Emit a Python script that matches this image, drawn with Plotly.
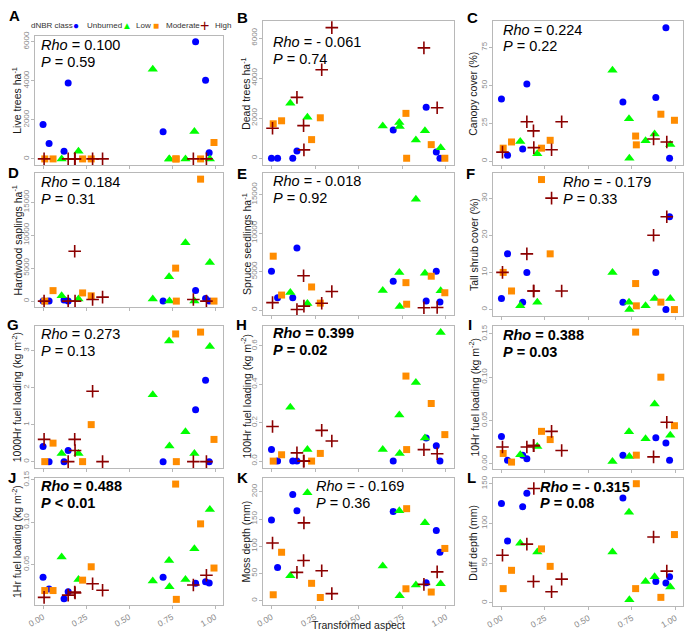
import plotly.graph_objects as go

W, H = 685, 633

classes = ["Unburned", "Low", "Moderate", "High"]
colors = {"Unburned": "#0000FF", "Low": "#00FF00", "Moderate": "#FF8C00", "High": "#8B0000"}

# Transformed aspect of the sites (shared by all panels), per dNBR class
aspect = {
    "Unburned": [0.00, 0.035, 0.122, 0.146, 0.698, 0.887, 0.945, 0.966],
    "Low": [0.108, 0.206, 0.638, 0.733, 0.735, 0.828, 0.880, 0.970],
    "Moderate": [0.010, 0.058, 0.230, 0.280, 0.771, 0.775, 0.916, 0.994],
    "High": [0.006, 0.146, 0.184, 0.186, 0.288, 0.346, 0.874, 0.950],
}

live_trees = {"Unburned": [1765, 790, 387, 3880, 1395, 6000, 4030, 320],
              "Low": [0, 390, 4590, 0, 0, 0, 1400, 0],
              "Moderate": [0, 0, 0, 0, 0, 0, 0, 840],
              "High": [0, 0, 0, 0, 0, 0, 0, 0]}
dead_trees = {"Unburned": [0, 0, 0, 360, 1415, 2540, 310, 0],
              "Low": [2750, 2050, 1610, 1790, 1590, 910, 1370, 520],
              "Moderate": [1720, 1870, 930, 2020, 2240, 0, 680, 0],
              "High": [1500, 3040, 1630, 420, 4420, 6520, 5510, 2520]}
canopy_cover = {"Unburned": [41, 4, 8, 51, 39, 42, 88, 2],
                "Low": [13, 5, 60, 28, 2, 13.5, 18, 11],
                "Moderate": [8.6, 12.7, 8.6, 13.8, 16.6, 10.8, 31, 27],
                "High": [6, 26, 20, 9, 7.6, 26, 14.7, 12.7]}
hardwood_saplings = {"Unburned": [0, 0, 150, 0, 0, 1600, 400, 0],
                     "Low": [800, 300, 300, 3680, 0, 8850, 0, 5870],
                     "Moderate": [0, 1590, 1240, 800, 5000, 0, 18500, 0],
                     "High": [0, 0, 7560, 0, 250, 600, 250, 0]}
spruce_seedlings = {"Unburned": [5040, 1610, 1610, 8050, 3730, 1190, 5040, 1060],
                    "Low": [2290, 850, 2540, 4870, 470, 14400, 4790, 2500],
                    "Moderate": [7000, 1950, 3000, 900, 3560, 760, 4400, 2250],
                    "High": [970, 80, 4450, 510, 890, 2420, 300, 340]}
tall_shrub = {"Unburned": [3, 15, 2, 10, 2, 10, 0, 25],
              "Low": [1, 2, 10, 2, 0, 1, 3, 3],
              "Moderate": [10, 5, 35, 15, 7, 1, 2, 0],
              "High": [10, 15, 5, 5, 30, 5, 20, 25]}
fuel_1000hr = {"Unburned": [0.41, 0, 0, 0.3, 0, 1.4, 2.2, 0],
               "Low": [0.22, 0.22, 1.81, 3.26, 0.42, 0.81, 0.22, 3.11],
               "Moderate": [0, 0.5, 0, 1.0, 3.45, 0, 3.5, 0.6],
               "High": [0.6, 0, 0.6, 0.3, 1.9, 0, 0, 0]}
fuel_100hr = {"Unburned": [0.06, 0, 0, 0, 0, 0.12, 0.08, 0],
              "Low": [0.28, 0.06, 0.06, 0.24, 0.04, 0.41, 0.12, 0.67],
              "Moderate": [0, 0.033, 0, 0.04, 0.443, 0.06, 0.3, 0.138],
              "High": [0.18, 0.043, 0, 0, 0.16, 0.105, 0.06, 0.038]}
fuel_10hr = {"Unburned": [0.0315, 0.004, 0.01, 0.006, 0.01, 0.03, 0.024, 0.004],
             "Low": [0.0105, 0.02, 0.0026, 0.037, 0.0086, 0.029, 0.069, 0.033],
             "Moderate": [0.012, 0.002, 0.0375, 0.028, 0.152, 0.01, 0.1, 0.044],
             "High": [0.0195, 0.0195, 0.021, 0.021, 0.0375, 0.0154, 0.008, 0.048]}
fuel_1hr = {"Unburned": [0.035, 0.021, 0.0096, 0.0177, 0.035, 0.0277, 0.0296, 0.028],
            "Low": [0.0588, 0.0323, 0.0304, 0.0546, 0.0238, 0.0323, 0.0685, 0.115],
            "Moderate": [0.0192, 0.0192, 0.0315, 0.0473, 0.145, 0.0088, 0.098, 0.0458],
            "High": [0.0112, 0.0138, 0.0173, 0.0165, 0.0273, 0.0196, 0.0258, 0.0373]}
moss_depth = {"Unburned": [148, 61, 195, 165, 164, 33, 129, 89],
              "Low": [46, 198, 64, 165, 9, 29, 143, 31],
              "Moderate": [11, 89, 32, 6, 22, 169, 16, 96],
              "High": [106, 52, 74, 143, 55, 13, 30, 53]}
duff_depth = {"Unburned": [125, 78, 121, 138, 132, 27, 25, 33],
              "Low": [75, 64, 64, 114, 4, 27, 33, 20],
              "Moderate": [18, 41, 68, 46, 18, 150, 7, 86],
              "High": [60, 74, 27, 144, 14, 30, 83, 40]}

x_ticks = [0.0, 0.25, 0.5, 0.75, 1.0]
x_ticktext = ["0.00", "0.25", "0.50", "0.75", "1.00"]

# letter, y title, data, rho, p, bold, yticks, tickformat, yrange
panels = [
    ("A", "Live trees ha<sup>-1</sup>", live_trees, "0.100", "= 0.59", False, [0, 2000, 4000, 6000], "d", [-300, 6300]),
    ("B", "Dead trees ha<sup>-1</sup>", dead_trees, "- 0.061", "= 0.74", False, [0, 2000, 4000, 6000], "d", [-326, 6846]),
    ("C", "Canopy cover (%)", canopy_cover, "0.224", "= 0.22", False, [0, 25, 50, 75], "d", [-2.8, 92.4]),
    ("D", "Hardwood saplings ha<sup>-1</sup>", hardwood_saplings, "0.184", "= 0.31", False, [0, 5000, 10000, 15000], "d", [-925, 19425]),
    ("E", "Spruce seedlings ha<sup>-1</sup>", spruce_seedlings, "- 0.018", "= 0.92", False, [0, 5000, 10000, 15000], "d", [-650, 17800]),
    ("F", "Tall shrub cover (%)", tall_shrub, "- 0.179", "= 0.33", False, [0, 10, 20, 30], "d", [-1.75, 36.75]),
    ("G", "1000Hr fuel loading (kg m<sup>-2</sup>)", fuel_1000hr, "0.273", "= 0.13", False, [0, 1, 2, 3], "d", [-0.175, 3.675]),
    ("H", "100Hr fuel loading (kg m<sup>-2</sup>)", fuel_100hr, "0.399", "= 0.02", True, [0, 0.2, 0.4, 0.6], ".1f", [-0.034, 0.706]),
    ("I", "10Hr fuel loading (kg m<sup>-2</sup>)", fuel_10hr, "0.388", "= 0.03", True, [0, 0.05, 0.10, 0.15], ".2f", [-0.0055, 0.1595]),
    ("J", "1Hr fuel loading (kg m<sup>-2</sup>)", fuel_1hr, "0.488", "< 0.01", True, [0.05, 0.10, 0.15], ".2f", [0.002, 0.152]),
    ("K", "Moss depth (mm)", moss_depth, "- 0.169", "= 0.36", False, [0, 50, 100, 150, 200], "d", [-8, 225]),
    ("L", "Duff depth (mm)", duff_depth, "- 0.315", "= 0.08", True, [0, 50, 100, 150], "d", [-4, 157]),
]

# layout geometry in pixels (left, right) per column, (top, bottom) per panel
col_x = [(27.3, 217.3), (258.3, 451.0), (491.0, 683.3)]
panel_y = [(28.3, 159.3), (13.3, 159.3), (13.3, 160.0),
           (167.7, 304.0), (167.7, 312.0), (167.7, 313.0),
           (322.7, 467.5), (322.7, 467.0), (322.7, 468.0),
           (477.7, 606.7), (477.7, 606.7), (477.7, 607.7)]
ann_pos = [(31.7, 38, 55), (265.7, 35, 52), (499, 22, 39),
           (31.7, 177, 194), (265.7, 175.7, 192.7), (560, 177, 194),
           (31.7, 331.7, 348.3), (265.7, 330.7, 347.7), (499.3, 332, 349.3),
           (31.7, 486, 502.7), (310, 486, 503.3), (536.7, 486.7, 503.3)]
letter_pos = [(7, 8), (237, 9.5), (469.5, 10), (5.5, 167), (237, 168), (468, 168),
              (5.5, 321.7), (236.7, 321.7), (467, 321.7), (4.5, 476.7), (237, 476.7), (469, 476.7)]
ytitle_x = [8.5, 240.7, 471.0]

FONT = "Liberation Sans, Arial, sans-serif"
TICKC = "#8a8a8a"
BORDER = "#b8b8b8"

symbols = {"Unburned": "circle", "Low": "triangle-up", "Moderate": "square", "High": "cross-thin"}
sizes = {"Unburned": 7, "Low": 9, "Moderate": 7, "High": 9}

fig = go.Figure()
annotations = []
layout = {}

def px2paper_x(px):
    return px / W

def px2paper_y(py):
    return 1 - py / H

for i, (letter, ytitle, data, rho, pval, bold, yticks, tfmt, yrange) in enumerate(panels):
    n = i + 1
    xa = "x" if n == 1 else f"x{n}"
    ya = "y" if n == 1 else f"y{n}"
    xkey = "xaxis" if n == 1 else f"xaxis{n}"
    ykey = "yaxis" if n == 1 else f"yaxis{n}"
    col = i % 3
    row = i // 3
    l, r = col_x[col]
    t, b = panel_y[i]
    for c in classes:
        if c == "High":
            marker = dict(symbol=symbols[c], size=sizes[c], color=colors[c],
                          line=dict(color=colors[c], width=1.6))
        else:
            marker = dict(symbol=symbols[c], size=sizes[c], color=colors[c], line=dict(width=0))
        fig.add_trace(go.Scatter(x=aspect[c], y=data[c], mode="markers", name=c,
                                 marker=marker, xaxis=xa, yaxis=ya, showlegend=False,
                                 cliponaxis=False))
    layout[xkey] = dict(domain=[px2paper_x(l), px2paper_x(r)], anchor=ya,
                        range=[-0.047, 1.045], tickvals=x_ticks, ticktext=x_ticktext,
                        showticklabels=(row == 3), tickangle=-30,
                        tickfont=dict(family=FONT, size=8.5, color=TICKC),
                        ticks="outside", ticklen=3, tickcolor=BORDER, tickwidth=1,
                        showline=True, mirror=True, linecolor=BORDER, linewidth=1,
                        showgrid=False, zeroline=False, fixedrange=True)
    layout[ykey] = dict(domain=[px2paper_y(b), px2paper_y(t)], anchor=xa,
                        range=yrange, tickvals=yticks, tickformat=tfmt, tickangle=-90,
                        tickfont=dict(family=FONT, size=8, color=TICKC),
                        ticklabelstandoff=-1,
                        ticks="outside", ticklen=3, tickcolor=BORDER, tickwidth=1,
                        showline=True, mirror=True, linecolor=BORDER, linewidth=1,
                        showgrid=False, zeroline=False, fixedrange=True)
    # y axis title
    annotations.append(dict(text=ytitle, x=px2paper_x(ytitle_x[col]), y=px2paper_y((t + b) / 2),
                            xref="paper", yref="paper", showarrow=False, textangle=-90,
                            xanchor="center", yanchor="middle",
                            font=dict(family=FONT, size=10.5, color="#1a1a1a")))
    # Rho / P
    ax_, ry, py_ = ann_pos[i]
    rho_txt = f"<i>Rho</i> = {rho}"
    p_txt = f"<i>P</i> {pval}"
    if bold:
        rho_txt = f"<b>{rho_txt}</b>"
        p_txt = f"<b>{p_txt}</b>"
    for txt, yy in ((rho_txt, ry), (p_txt, py_)):
        annotations.append(dict(text=txt, x=px2paper_x(ax_), y=px2paper_y(yy),
                                xref="paper", yref="paper", showarrow=False,
                                xanchor="left", yanchor="middle",
                                font=dict(family=FONT, size=14.5, color="#000000")))
    # panel letter
    lx, ly = letter_pos[i]
    annotations.append(dict(text=f"<b>{letter}</b>", x=px2paper_x(lx), y=px2paper_y(ly),
                            xref="paper", yref="paper", showarrow=False,
                            xanchor="center", yanchor="middle",
                            font=dict(family=FONT, size=15, color="#000000")))

# x axis title
annotations.append(dict(text="Transformed aspect", x=px2paper_x(355), y=px2paper_y(627),
                        xref="paper", yref="paper", showarrow=False,
                        xanchor="center", yanchor="middle",
                        font=dict(family=FONT, size=10.5, color="#1a1a1a")))

# legend (dNBR class) drawn as text
legend_y = 17.7
annotations.append(dict(text="dNBR class", x=px2paper_x(21.7), y=px2paper_y(legend_y),
                        xref="paper", yref="paper", showarrow=False, xanchor="left", yanchor="middle",
                        font=dict(family=FONT, size=8, color="#333333")))
legend_items = [("Unburned", "\u25CF", 69, 78, 10), ("Low", "\u25B2", 120, 127, 10),
                ("Moderate", "\u25A0", 150, 158, 10), ("High", "+", 199, 207, 16)]
for name, glyph, sx, tx, gsize in legend_items:
    annotations.append(dict(text=glyph, x=px2paper_x(sx), y=px2paper_y(legend_y),
                            xref="paper", yref="paper", showarrow=False, xanchor="center", yanchor="middle",
                            font=dict(family=FONT, size=gsize, color=colors[name])))
    annotations.append(dict(text=name, x=px2paper_x(tx), y=px2paper_y(legend_y),
                            xref="paper", yref="paper", showarrow=False, xanchor="left", yanchor="middle",
                            font=dict(family=FONT, size=8, color="#333333")))

fig.update_layout(width=W, height=H, margin=dict(l=0, r=0, t=0, b=0),
                  paper_bgcolor="white", plot_bgcolor="white",
                  font=dict(family=FONT), annotations=annotations, showlegend=False,
                  **layout)

fig.write_html("out.html", config={"displayModeBar": False},
               post_script="document.body.style.margin='0';document.body.style.overflow='hidden';")
